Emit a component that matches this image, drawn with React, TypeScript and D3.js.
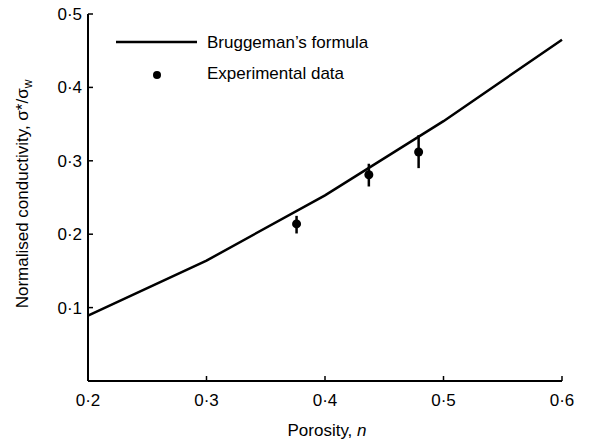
import * as d3 from 'd3';

// Bruggeman's formula curve
const curveN = [0.2, 0.3, 0.4, 0.5, 0.6];
const curveSigma = [0.089, 0.164, 0.253, 0.354, 0.465];

// experimental points with error bars
const expN = [0.376, 0.437, 0.479];
const expSigma = [0.214, 0.281, 0.312];
const expLow = [0.201, 0.265, 0.29];
const expHigh = [0.225, 0.296, 0.335];

const xTicks = [0.2, 0.3, 0.4, 0.5, 0.6];
const yTicks = [0.1, 0.2, 0.3, 0.4, 0.5];

const fmt = (v: number) => v.toFixed(1).replace('.', '·');

export default function App() {
  const width = 599;
  const height = 441;
  const left = 88;
  const right = 562;
  const top = 14;
  const bottom = 381;

  const x = d3.scaleLinear().domain([0.2, 0.6]).range([left, right]);
  const y = d3.scaleLinear().domain([0, 0.5]).range([bottom, top]);

  const line = d3.line<number>()
    .x((d, i) => x(curveN[i]))
    .y(d => y(d));

  const font = 'Arial, "Liberation Sans", sans-serif';
  const fs = 17;

  return (
    <svg width={width} height={height} style={{ position: 'absolute', left: 0, top: 0 }} fontFamily={font}>
      <rect width={width} height={height} fill="white" />

      {/* axes */}
      <line x1={left} x2={left} y1={top} y2={bottom} stroke="black" strokeWidth={2} />
      <line x1={left} x2={right} y1={bottom} y2={bottom} stroke="black" strokeWidth={2} />

      {xTicks.map(t => (
        <g key={'x' + t}>
          <line x1={x(t)} x2={x(t)} y1={bottom} y2={bottom - 5} stroke="black" strokeWidth={1.5} />
          <text x={x(t)} y={bottom + 25} textAnchor="middle" fontSize={fs}>{fmt(t)}</text>
        </g>
      ))}
      {yTicks.map(t => (
        <g key={'y' + t}>
          <line x1={left} x2={left + 5} y1={y(t)} y2={y(t)} stroke="black" strokeWidth={1.5} />
          <text x={left - 6} y={y(t) + 6} textAnchor="end" fontSize={fs}>{fmt(t)}</text>
        </g>
      ))}

      <text x={(left + right) / 2 + 2} y={436} textAnchor="middle" fontSize={fs}>
        Porosity, <tspan fontStyle="italic">n</tspan>
      </text>
      <text transform="translate(28,194) rotate(-90)" textAnchor="middle" fontSize={fs}>
        Normalised conductivity, σ*/σ<tspan fontSize={12} dy={4}>w</tspan>
      </text>

      {/* curve */}
      <path d={line(curveSigma) ?? ''} fill="none" stroke="black" strokeWidth={2.5} />

      {/* experimental data */}
      {expN.map((n, i) => (
        <g key={'e' + i}>
          <line x1={x(n)} x2={x(n)} y1={y(expLow[i])} y2={y(expHigh[i])} stroke="black" strokeWidth={2.5} />
          <circle cx={x(n)} cy={y(expSigma[i])} r={4.5} fill="black" />
        </g>
      ))}

      {/* legend */}
      <line x1={116} x2={197} y1={42} y2={42} stroke="black" strokeWidth={2.5} />
      <text x={207} y={48} fontSize={fs}>Bruggeman’s formula</text>
      <circle cx={157} cy={75} r={4} fill="black" />
      <text x={207} y={79} fontSize={fs}>Experimental data</text>
    </svg>
  );
}
